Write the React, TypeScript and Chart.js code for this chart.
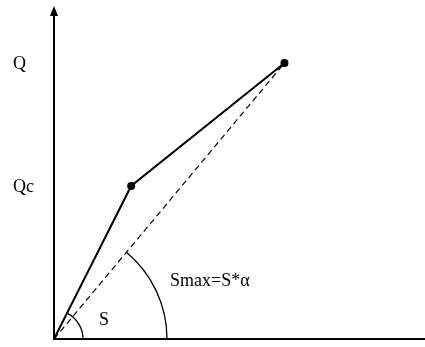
import React, { useEffect, useRef } from "react";
import { Chart, registerables } from "chart.js";

Chart.register(...registerables);

// Data (abstract S / Q units)
const sValues = [0, 78, 233];
const qValues = [0, 153, 276];
const xAxisMax = 371;
const yAxisMax = 333;
const yTickValues = [153, 276];
const yTickLabels = ["Qc", "Q"];
const angleLabels = ["S", "Smax=S*α"];

const FONT = '18px "Liberation Serif", "Times New Roman", serif';

const diagramPlugin = {
  id: "diagram",
  beforeDatasetsDraw(chart: any) {
    const { ctx, chartArea, scales } = chart;
    const xs = scales.x;
    const ys = scales.y;
    const ox = xs.getPixelForValue(0);
    const oy = ys.getPixelForValue(0);
    ctx.save();
    ctx.strokeStyle = "#000";
    ctx.fillStyle = "#000";
    ctx.lineWidth = 2;
    // y axis
    ctx.beginPath();
    ctx.moveTo(ox, oy + 1);
    ctx.lineTo(ox, chartArea.top + 8);
    ctx.stroke();
    // arrow head
    ctx.beginPath();
    ctx.moveTo(ox, chartArea.top);
    ctx.lineTo(ox - 4, chartArea.top + 10);
    ctx.lineTo(ox + 4, chartArea.top + 10);
    ctx.closePath();
    ctx.fill();
    // x axis
    ctx.beginPath();
    ctx.moveTo(ox - 1, oy);
    ctx.lineTo(chart.width, oy);
    ctx.stroke();

    // angle arcs
    const n = sValues.length;
    const p1x = xs.getPixelForValue(sValues[1]);
    const p1y = ys.getPixelForValue(qValues[1]);
    const pnx = xs.getPixelForValue(sValues[n - 1]);
    const pny = ys.getPixelForValue(qValues[n - 1]);
    const a1 = Math.atan2(oy - p1y, p1x - ox);
    const a2 = Math.atan2(oy - pny, pnx - ox);
    ctx.lineWidth = 1.3;
    ctx.beginPath();
    ctx.arc(ox, oy, 29, -a1, 0);
    ctx.stroke();
    ctx.beginPath();
    ctx.arc(ox, oy, 113, -a2, 0);
    ctx.stroke();

    // labels
    ctx.font = FONT;
    ctx.textBaseline = "middle";
    ctx.textAlign = "left";
    yTickValues.forEach((v, i) => {
      ctx.fillText(yTickLabels[i], 13, ys.getPixelForValue(v) + 1);
    });
    ctx.textAlign = "center";
    ctx.fillText(angleLabels[0], ox + 50, oy - 19);
    ctx.textAlign = "left";
    ctx.fillText(angleLabels[1], ox + 116, oy - 58);
    ctx.restore();
  },
};

export default function App() {
  const ref = useRef<HTMLCanvasElement | null>(null);
  useEffect(() => {
    if (!ref.current) return;
    const pts = sValues.map((x, i) => ({ x, y: qValues[i] }));
    const n = pts.length;
    const chart = new Chart(ref.current, {
      type: "scatter",
      data: {
        datasets: [
          {
            data: pts,
            showLine: true,
            borderColor: "#000",
            backgroundColor: "#000",
            borderWidth: 2,
            pointRadius: pts.map((_, i) => (i === 0 ? 0 : 4)),
            pointBorderWidth: 0,
            pointBackgroundColor: "#000",
          },
          {
            data: [pts[0], pts[n - 1]],
            showLine: true,
            borderColor: "#000",
            borderWidth: 1.2,
            borderDash: [6, 4],
            pointRadius: 0,
          },
        ],
      },
      options: {
        responsive: false,
        animation: false,
        layout: { padding: { left: 54, right: 0, top: 6, bottom: 8 } },
        plugins: {
          legend: { display: false },
          tooltip: { enabled: false },
        },
        scales: {
          x: { type: "linear", display: false, min: 0, max: xAxisMax },
          y: { type: "linear", display: false, min: 0, max: yAxisMax },
        },
      },
      plugins: [diagramPlugin],
    });
    return () => chart.destroy();
  }, []);
  return (
    <div style={{ position: "fixed", left: 0, top: 0, width: 425, height: 347, background: "#fff" }}>
      <canvas ref={ref} width={425} height={347} style={{ width: 425, height: 347 }} />
    </div>
  );
}
